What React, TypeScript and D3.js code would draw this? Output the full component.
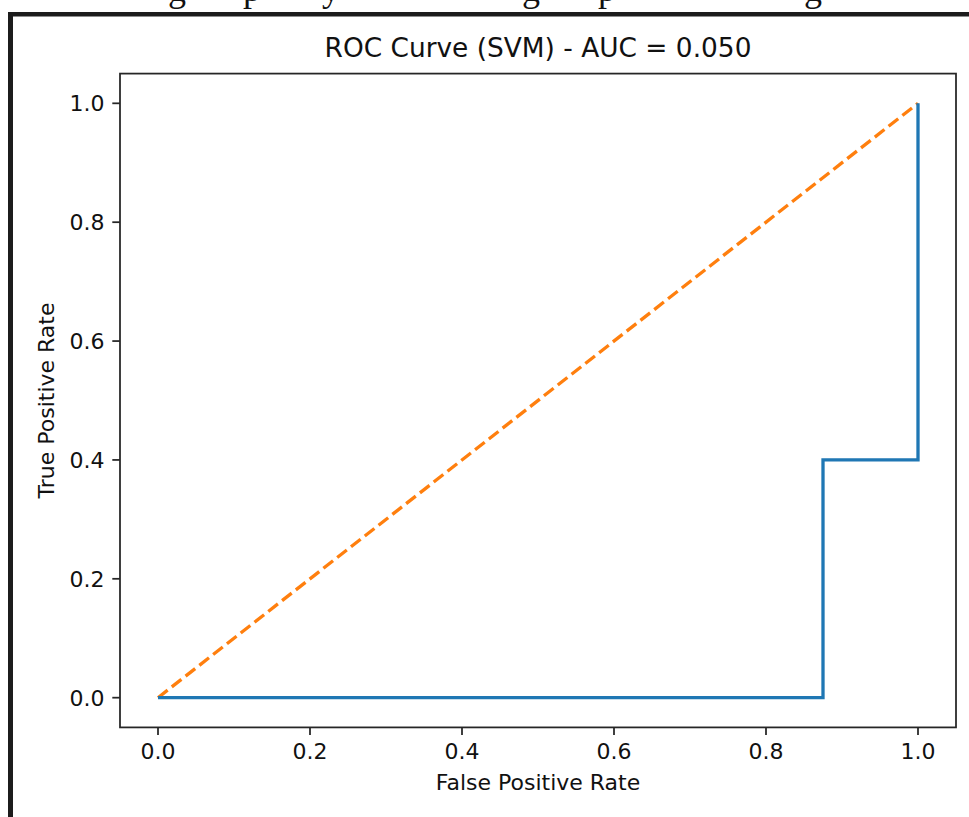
import React from "react";
import * as d3 from "d3";

const fprValues = [0, 0.875, 0.875, 1, 1];
const tprValues = [0, 0, 0.4, 0.4, 1];
const chanceX = [0, 1];
const chanceY = [0, 1];
const tickValues = [0, 0.2, 0.4, 0.6, 0.8, 1.0];
const titleText = "ROC Curve (SVM) - AUC = 0.050";
const xLabel = "False Positive Rate";
const yLabel = "True Positive Rate";
// descenders of cropped caption text above the figure
const captionGlyphs = ["g", "p", "y", "g", "p", "g"];
const captionX = [168, 243, 322, 522, 598, 804];

const W = 969;
const H = 817;
const left = 120;
const right = 956;
const top = 73.6;
const bottom = 727.4;

export default function App() {
  const x = d3.scaleLinear().domain([-0.05, 1.05]).range([left, right]);
  const y = d3.scaleLinear().domain([-0.05, 1.05]).range([bottom, top]);
  const rocPts = fprValues.map((v, i) => [v, tprValues[i]] as [number, number]);
  const chancePts = chanceX.map((v, i) => [v, chanceY[i]] as [number, number]);
  const line = d3
    .line<[number, number]>()
    .x((d) => x(d[0]))
    .y((d) => y(d[1]));
  const font = "'DejaVu Sans', sans-serif";
  const dark = "#262626";
  return (
    <svg
      width={W}
      height={H}
      style={{ position: "fixed", left: 0, top: 0, background: "#fff" }}
    >
      <rect x={0} y={0} width={W} height={H} fill="#fff" />
      {captionGlyphs.map((g, i) => (
        <text
          key={i}
          x={captionX[i]}
          y={1}
          fontFamily="'Liberation Serif', 'Times New Roman', serif"
          fontSize={36}
          fill="#111"
        >
          {g}
        </text>
      ))}
      <rect x={8} y={12} width={W} height={4.5} fill="#1c1c1c" />
      <rect x={8} y={12} width={5} height={H} fill="#1c1c1c" />

      <text
        x={(left + right) / 2}
        y={57}
        textAnchor="middle"
        fontFamily={font}
        fontSize={26.4}
        fill="#111"
      >
        {titleText}
      </text>

      <path
        d={line(chancePts) || ""}
        fill="none"
        stroke="#ff7f0e"
        strokeWidth={3.3}
        strokeDasharray="12.2,5.3"
      />
      <path
        d={line(rocPts) || ""}
        fill="none"
        stroke="#1f77b4"
        strokeWidth={3.3}
        strokeLinejoin="miter"
      />

      <rect
        x={left}
        y={top}
        width={right - left}
        height={bottom - top}
        fill="none"
        stroke={dark}
        strokeWidth={1.76}
      />

      {tickValues.map((t) => (
        <g key={"x" + t}>
          <line
            x1={x(t)}
            x2={x(t)}
            y1={bottom}
            y2={bottom + 7.7}
            stroke={dark}
            strokeWidth={1.76}
          />
          <text
            x={x(t)}
            y={bottom + 32}
            textAnchor="middle"
            fontFamily={font}
            fontSize={22}
            fill="#111"
          >
            {t.toFixed(1)}
          </text>
        </g>
      ))}
      {tickValues.map((t) => (
        <g key={"y" + t}>
          <line
            x1={left - 7.7}
            x2={left}
            y1={y(t)}
            y2={y(t)}
            stroke={dark}
            strokeWidth={1.76}
          />
          <text
            x={left - 15.5}
            y={y(t)}
            dy="0.36em"
            textAnchor="end"
            fontFamily={font}
            fontSize={22}
            fill="#111"
          >
            {t.toFixed(1)}
          </text>
        </g>
      ))}

      <text
        x={(left + right) / 2}
        y={790}
        textAnchor="middle"
        fontFamily={font}
        fontSize={22}
        fill="#111"
      >
        {xLabel}
      </text>
      <text
        transform={`translate(54, ${(top + bottom) / 2}) rotate(-90)`}
        textAnchor="middle"
        fontFamily={font}
        fontSize={22}
        fill="#111"
      >
        {yLabel}
      </text>
    </svg>
  );
}
